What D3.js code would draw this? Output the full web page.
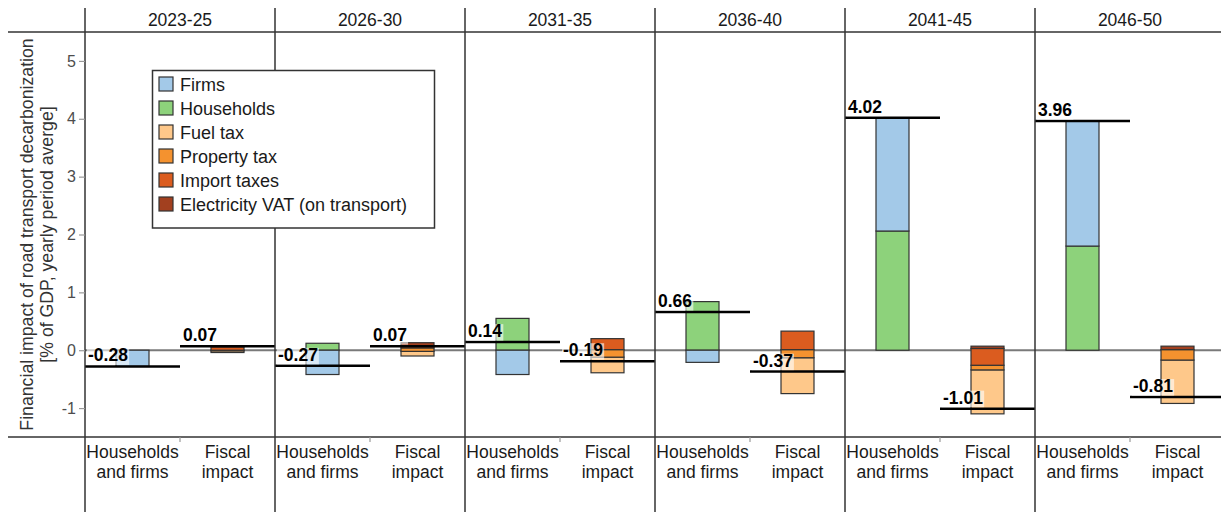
<!DOCTYPE html>
<html>
<head>
<meta charset="utf-8">
<script src="https://cdn.jsdelivr.net/npm/d3@7"></script>
<style>
  html, body { margin: 0; padding: 0; background: #fff; }
  svg { display: block; font-family: "Liberation Sans", Arial, sans-serif; }
</style>
</head>
<body>
<svg id="chart" width="1221" height="512"></svg>
<script>
// ---------------- data ----------------
const periods = ["2023-25", "2026-30", "2031-35", "2036-40", "2041-45", "2046-50"];
const categories = ["Households and firms", "Fiscal impact"];
const categoryLines = [["Households", "and firms"], ["Fiscal", "impact"]];

// Households and firms (stacked from zero)
const households = [0.00, 0.12, 0.55, 0.84, 2.06, 1.80];
const firms = [-0.28, -0.42, -0.42, -0.21, 1.96, 2.16];

// Fiscal impact: bar starts at fiscalBase, components stacked upward
const fiscalBase = [-0.04, -0.10, -0.39, -0.75, -1.10, -0.92];
const fuelTax = [0.03, 0.08, 0.27, 0.62, 0.76, 0.75];
const propertyTax = [0.01, 0.06, 0.13, 0.14, 0.08, 0.18];
const importTaxes = [0.06, 0.04, 0.19, 0.32, 0.29, 0.00];
const electricityVAT = [0.01, 0.05, 0.00, 0.00, 0.04, 0.06];

// Net totals (labelled horizontal lines)
const totalHouseholdsFirms = [-0.28, -0.27, 0.14, 0.66, 4.02, 3.96];
const totalFiscal = [0.07, 0.07, -0.19, -0.37, -1.01, -0.81];

const yTicks = [-1, 0, 1, 2, 3, 4, 5];
const legendLabels = ["Firms", "Households", "Fuel tax", "Property tax", "Import taxes", "Electricity VAT (on transport)"];
const legendColors = ["#a3c9e8", "#8dd27b", "#fec88a", "#f4922f", "#db5c1f", "#a2401f"];

// ---------------- layout ----------------
const svg = d3.select("#chart");
const W = 1221, H = 512;
const plotLeft = 85, panelW = 190;
const plotTop = 32, plotBottom = 437;
const barW = 33;
const lineColor = "#333";
const hyphen = s => s.replace("\u2212", "-");

const xPanel = d3.scaleBand().domain(periods).range([plotLeft, plotLeft + panelW * periods.length]).padding(0);
const xCat = d3.scaleBand().domain(categories).range([0, panelW]).padding(0);
const y = d3.scaleLinear().domain([-1.5, 5.5]).range([plotBottom, plotTop]);
const color = d3.scaleOrdinal().domain(legendLabels).range(legendColors);

// zero line (behind bars)
svg.append("line")
  .attr("x1", plotLeft).attr("x2", W)
  .attr("y1", y(0)).attr("y2", y(0))
  .attr("stroke", "#7a7a7a").attr("stroke-width", 2);

// build segments
const segments = [];
periods.forEach((p, i) => {
  let pos = 0, neg = 0;
  [["Households", households[i]], ["Firms", firms[i]]].forEach(([k, v]) => {
    if (v === 0) return;
    if (v > 0) { segments.push({p, c: categories[0], k, y0: pos, y1: pos + v}); pos += v; }
    else { segments.push({p, c: categories[0], k, y0: neg + v, y1: neg}); neg += v; }
  });
  let cur = fiscalBase[i];
  [["Fuel tax", fuelTax[i]], ["Property tax", propertyTax[i]], ["Import taxes", importTaxes[i]], ["Electricity VAT (on transport)", electricityVAT[i]]]
    .forEach(([k, v]) => {
      if (v === 0) return;
      segments.push({p, c: categories[1], k, y0: cur, y1: cur + v});
      cur += v;
    });
});

svg.append("g").selectAll("rect").data(segments).join("rect")
  .attr("x", d => xPanel(d.p) + xCat(d.c) + (xCat.bandwidth() - barW) / 2)
  .attr("width", barW)
  .attr("y", d => y(d.y1))
  .attr("height", d => Math.max(0.5, y(d.y0) - y(d.y1)))
  .attr("fill", d => color(d.k))
  .attr("stroke", "#333").attr("stroke-width", 1.2);

// totals
const totals = [];
periods.forEach((p, i) => {
  totals.push({p, c: categories[0], v: totalHouseholdsFirms[i]});
  totals.push({p, c: categories[1], v: totalFiscal[i]});
});
svg.append("g").selectAll("line").data(totals).join("line")
  .attr("x1", d => xPanel(d.p) + xCat(d.c))
  .attr("x2", d => xPanel(d.p) + xCat(d.c) + xCat.bandwidth())
  .attr("y1", d => y(d.v)).attr("y2", d => y(d.v))
  .attr("stroke", "#000").attr("stroke-width", 2.5);

const fmt = v => hyphen(d3.format(".2f")(v));
const labG = svg.append("g");
totals.forEach(d => {
  const g = labG.append("g");
  const bg = g.append("rect").attr("fill", "#fff").attr("fill-opacity", 0.6);
  const t = g.append("text")
    .attr("x", xPanel(d.p) + xCat(d.c) + 3)
    .attr("y", y(d.v) - 5)
    .attr("font-size", 17.5).attr("font-weight", "bold").attr("fill", "#000")
    .text(fmt(d.v));
  const bb = t.node().getBBox();
  bg.attr("x", bb.x - 1).attr("y", bb.y + 3).attr("width", bb.width + 2).attr("height", y(d.v) - 1.5 - (bb.y + 3));
});

// frame lines
svg.append("line").attr("x1", 8).attr("x2", W).attr("y1", plotTop).attr("y2", plotTop)
  .attr("stroke", lineColor).attr("stroke-width", 1.5);
svg.append("line").attr("x1", 8).attr("x2", W).attr("y1", plotBottom).attr("y2", plotBottom)
  .attr("stroke", lineColor).attr("stroke-width", 1.5);
const edges = periods.map(p => xPanel(p)).concat([xPanel(periods[periods.length - 1]) + panelW]);
svg.append("g").selectAll("line").data(edges).join("line")
  .attr("x1", d => d).attr("x2", d => d).attr("y1", 8).attr("y2", H)
  .attr("stroke", lineColor).attr("stroke-width", 1.5);

// category ticks between bands
svg.append("g").selectAll("line").data(periods).join("line")
  .attr("x1", p => xPanel(p) + xCat(categories[1])).attr("x2", p => xPanel(p) + xCat(categories[1]))
  .attr("y1", plotBottom).attr("y2", plotBottom + 5)
  .attr("stroke", "#999").attr("stroke-width", 1.2);

// panel headers
svg.append("g").selectAll("text").data(periods).join("text")
  .attr("x", p => xPanel(p) + panelW / 2).attr("y", 26)
  .attr("text-anchor", "middle").attr("font-size", 17.5).attr("fill", "#1a1a1a")
  .text(p => p);

// category labels
periods.forEach(p => {
  categories.forEach((c, j) => {
    const t = svg.append("text")
      .attr("text-anchor", "middle").attr("font-size", 17.5).attr("fill", "#1a1a1a");
    categoryLines[j].forEach((ln, k) => {
      t.append("tspan").attr("x", xPanel(p) + xCat(c) + xCat.bandwidth() / 2)
        .attr("y", 458 + k * 20).text(ln);
    });
  });
});

// y axis
const yAxis = d3.axisLeft(y).tickValues(yTicks).tickSize(6).tickPadding(3).tickFormat(v => hyphen(d3.format("d")(v)));
const ya = svg.append("g").attr("transform", `translate(${plotLeft},0)`).call(yAxis);
ya.select(".domain").remove();
ya.selectAll(".tick line").attr("stroke", "#999").attr("stroke-width", 1.2);
ya.selectAll(".tick text").attr("font-size", 16).attr("fill", "#4d4d4d")
  .attr("font-family", "Liberation Sans, Arial, sans-serif");

// y title
const titleY = (plotTop + plotBottom) / 2;
svg.append("text").attr("transform", `translate(33,${titleY}) rotate(-90)`)
  .attr("text-anchor", "middle").attr("font-size", 17.7).attr("fill", "#333")
  .text("Financial impact of road transport decarbonization");
svg.append("text").attr("transform", `translate(53,${titleY}) rotate(-90)`)
  .attr("text-anchor", "middle").attr("font-size", 17.7).attr("fill", "#333")
  .text("[% of GDP, yearly period averge]");

// legend
const lg = svg.append("g");
lg.append("rect").attr("x", 152.5).attr("y", 70.5).attr("width", 282).attr("height", 157.5)
  .attr("fill", "#fff").attr("stroke", "#333").attr("stroke-width", 1.5);
legendLabels.forEach((l, i) => {
  const cy = 84 + i * 24;
  lg.append("rect").attr("x", 159).attr("y", cy - 7).attr("width", 14).attr("height", 14)
    .attr("fill", color(l)).attr("stroke", "#333").attr("stroke-width", 1.2);
  lg.append("text").attr("x", 180).attr("y", cy + 6.5).attr("font-size", 18).attr("fill", "#1a1a1a").text(l);
});
</script>
</body>
</html>
